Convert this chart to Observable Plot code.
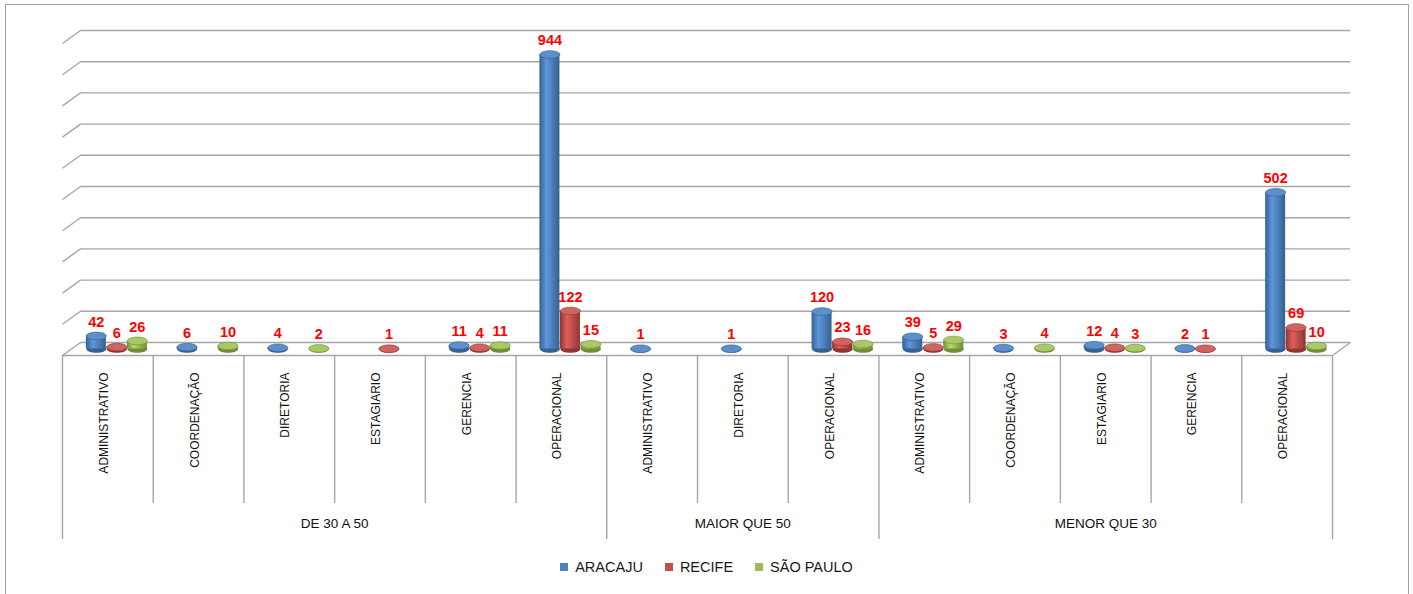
<!DOCTYPE html>
<html><head><meta charset="utf-8">
<script src="https://cdn.jsdelivr.net/npm/d3@7"></script>
<script src="https://cdn.jsdelivr.net/npm/@observablehq/plot@0.6"></script>
<style>
body{margin:0;background:#fff;}
#wrap{position:relative;width:1413px;height:594px;overflow:hidden;font-family:"Liberation Sans",Arial,sans-serif;}
#frame{position:absolute;left:5px;top:4px;width:1404px;height:640px;border:1.5px solid #a3a3a3;box-sizing:border-box;}
#chart{position:absolute;left:0;top:0;}
#legend{position:absolute;left:0;top:559px;width:1413px;display:flex;justify-content:center;align-items:center;font-size:14.5px;color:#1a1a1a;}
#legend .item{display:flex;align-items:center;margin:0 11px;}
#legend .sw{width:8px;height:8px;margin-right:7px;}
</style></head>
<body>
<div id="wrap"><div id="frame"></div><div id="chart"></div><div id="legend"></div></div>
<script>
// ---- data ----
const cargos = ["ADMINISTRATIVO","COORDENAÇÃO","DIRETORIA","ESTAGIARIO","GERENCIA","OPERACIONAL",
  "ADMINISTRATIVO","DIRETORIA","OPERACIONAL",
  "ADMINISTRATIVO","COORDENAÇÃO","ESTAGIARIO","GERENCIA","OPERACIONAL"];
const faixas = ["DE 30 A 50","DE 30 A 50","DE 30 A 50","DE 30 A 50","DE 30 A 50","DE 30 A 50",
  "MAIOR QUE 50","MAIOR QUE 50","MAIOR QUE 50",
  "MENOR QUE 30","MENOR QUE 30","MENOR QUE 30","MENOR QUE 30","MENOR QUE 30"];
const series = ["ARACAJU","RECIFE","SÃO PAULO"];
const aracaju  = [42, 6, 4, null, 11, 944, 1, 1, 120, 39, 3, 12, 2, 502];
const recife   = [6, null, null, 1, 4, 122, null, null, 23, 5, null, 4, 1, 69];
const saoPaulo = [26, 10, 2, null, 11, 15, null, null, 16, 29, 4, 3, null, 10];
const gridTicks = [0, 100, 200, 300, 400, 500, 600, 700, 800, 900, 1000];

// ---- styling / layout ----
const baseColors = ["#4f81bd", "#c0504d", "#9bbb59"];
const darkColors = ["#34618f", "#8f3533", "#728c3a"];
const topColors  = ["#5d8fcc", "#cf6461", "#a9c867"];
const W = 1413, H = 594, ML = 62, MR = 81, MT = 43, MB = 239;
const nCat = cargos.length;
const pxPerCat = (W - ML - MR) / nCat;
const pxPerUnit = (H - MT - MB) / 1000;
const backDX = 18, backDY = 13, midDX = 9, midDY = 6.5;
const barStep = 20.5 / pxPerCat, halfBar = 10 / pxPerCat;
const depthX = backDX / pxPerCat, depthY = backDY / pxPerUnit;

const values = [aracaju, recife, saoPaulo];
const rows = [];
values.forEach((arr, s) => arr.forEach((v, i) => {
  if (v != null) rows.push({i, s, v, xc: i + 0.5 + (s - 1) * barStep});
}));

// group spans
const groupSpans = [];
faixas.forEach((g, i) => {
  const last = groupSpans[groupSpans.length - 1];
  if (last && last.name === g) last.end = i + 1;
  else groupSpans.push({name: g, start: i, end: i + 1});
});
const groupBounds = new Set(groupSpans.flatMap(g => [g.start, g.end]));
const catBounds = d3.range(nCat + 1).filter(b => !groupBounds.has(b));

const ellipse = {
  draw(ctx, size) {
    const rx = Math.sqrt(size / Math.PI), ry = rx * 0.38, k = 0.5523;
    ctx.moveTo(rx, 0);
    ctx.bezierCurveTo(rx, k * ry, k * rx, ry, 0, ry);
    ctx.bezierCurveTo(-k * rx, ry, -rx, k * ry, -rx, 0);
    ctx.bezierCurveTo(-rx, -k * ry, -k * rx, -ry, 0, -ry);
    ctx.bezierCurveTo(k * rx, -ry, rx, -k * ry, rx, 0);
    ctx.closePath();
  }
};

const font = '"Liberation Sans", Arial, sans-serif';
const gridColor = "#a6a6a6";

const marks = [
  // back wall gridlines
  Plot.ruleY(gridTicks, {y: d => d, x1: 0, x2: nCat, dx: backDX, dy: -backDY, stroke: gridColor, strokeWidth: 1.4}),
  // left side diagonals
  Plot.link(gridTicks, {x1: 0, y1: d => d, x2: depthX, y2: d => d + depthY, stroke: gridColor, strokeWidth: 1.4}),
  // floor front edge and right diagonal
  Plot.ruleY([0], {x1: 0, x2: nCat, stroke: gridColor, strokeWidth: 1.4}),
  Plot.link([0], {x1: nCat, y1: 0, x2: nCat + depthX, y2: depthY, stroke: gridColor, strokeWidth: 1.4}),
  // category separators
  Plot.ruleX(catBounds, {x: d => d, insetTop: H - MT - MB, insetBottom: -148, stroke: gridColor, strokeWidth: 1.4}),
  Plot.ruleX([...groupBounds], {x: d => d, insetTop: H - MT - MB, insetBottom: -184, stroke: gridColor, strokeWidth: 1.4}),
  // category labels
  Plot.text(cargos, {x: (d, i) => i + 0.5, frameAnchor: "bottom", dy: 17, rotate: -90, textAnchor: "end",
    text: d => d, fontSize: 12, fontFamily: font, fill: "#111"}),
  // group labels
  Plot.text(groupSpans, {x: d => (d.start + d.end) / 2, frameAnchor: "bottom", dy: 172, text: "name",
    fontSize: 13.5, fontFamily: font, fill: "#111"}),
];

[0, 1, 2].forEach(s => {
  const data = rows.filter(r => r.s === s);
  marks.push(
    Plot.dot(data, {x: "xc", y: 0, r: 10, symbol: ellipse, fill: darkColors[s], stroke: "none", dx: midDX, dy: -midDY}),
    Plot.rect(data, {x1: d => d.xc - halfBar, x2: d => d.xc + halfBar, y1: 0, y2: "v", fill: `url(#cyl${s})`, dx: midDX, dy: -midDY}),
    Plot.dot(data, {x: "xc", y: "v", r: 10, symbol: ellipse, fill: topColors[s], stroke: darkColors[s], strokeWidth: 0.6, dx: midDX, dy: -midDY})
  );
});
marks.push(Plot.text(rows, {x: "xc", y: "v", text: d => String(d.v), dx: midDX, dy: -midDY - 14,
  fill: "#ff0000", fontWeight: "bold", fontSize: 14.5, fontFamily: font}));

const chart = Plot.plot({
  width: W, height: H,
  marginLeft: ML, marginRight: MR, marginTop: MT, marginBottom: MB,
  x: {domain: [0, nCat], axis: null},
  y: {domain: [0, 1000], axis: null},
  style: {background: "transparent", overflow: "visible"},
  marks
});

const defs = document.createElementNS("http://www.w3.org/2000/svg", "defs");
defs.innerHTML = [0, 1, 2].map(s => {
  const c = d3.color(baseColors[s]);
  return `<linearGradient id="cyl${s}" x1="0" x2="1" y1="0" y2="0">
    <stop offset="0" stop-color="${darkColors[s]}"/>
    <stop offset="0.35" stop-color="${c.brighter(0.45)}"/>
    <stop offset="0.6" stop-color="${baseColors[s]}"/>
    <stop offset="1" stop-color="${darkColors[s]}"/>
  </linearGradient>`;
}).join("");
chart.insertBefore(defs, chart.firstChild);
document.getElementById("chart").appendChild(chart);

const legend = document.getElementById("legend");
series.forEach((name, s) => {
  const item = document.createElement("div");
  item.className = "item";
  item.innerHTML = `<span class="sw" style="background:${baseColors[s]}"></span><span>${name}</span>`;
  legend.appendChild(item);
});
</script>
</body></html>
